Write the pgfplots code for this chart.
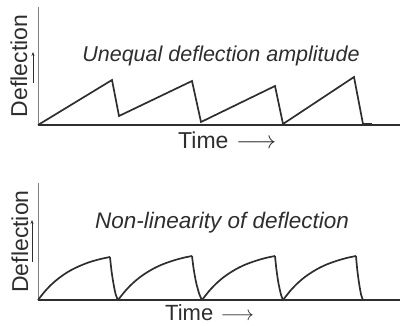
\documentclass[border=0pt]{standalone}
\usepackage{pgfplots}
\pgfplotsset{compat=1.18}
\usetikzlibrary{arrows.meta}
\usepackage{fontspec}
\setmainfont{Liberation Sans}
\definecolor{ink}{HTML}{2E2E2E}
\begin{document}
\begin{tikzpicture}[x=1pt,y=1pt]
\useasboundingbox (0,0) rectangle (400,325);
\pgfplotsset{
  wave/.style={line width=1.7pt, color=ink, mark=none, line join=miter},
  panel/.style={
  scale only axis, width=362pt, xmin=0, xmax=362, ymin=0,
  axis x line=bottom, axis y line=left,
  x axis line style={-, line width=1.2pt, color=ink},
  y axis line style={-, line width=0.7pt, color=gray},
  xtick=\empty, ytick=\empty, clip=false}
}
% ---------- top panel ----------
\begin{axis}[panel, at={(38,200)}, anchor=south west, height=118pt, ymax=118]
\addplot[wave] coordinates {(0,0) (74,45) (81,9) (154,44) (163,3) (237,39) (245,1) (316,48) (325,1)};
\addplot[wave, line width=2.6pt] coordinates {(325,1) (334,1)};
\end{axis}
% ---------- bottom panel ----------
\begin{axis}[panel, at={(38,25)}, anchor=south west, height=117pt, ymax=117]
% cycle 1
\addplot[wave, smooth] coordinates {(0,0) (7.2,9.0) (14.4,16.4) (21.6,22.4) (28.8,27.4) (36,31.4) (43.2,34.7) (50.4,37.5) (57.6,39.7) (64.8,41.5) (72,43)};
\addplot[wave, smooth] coordinates {(72,43) (73.4,30) (75.4,16.8) (77.8,5.2) (80,0)};
% cycle 2
\addplot[wave, smooth] coordinates {(80,0) (87.4,9.2) (94.8,16.8) (102.2,23.0) (109.6,28.0) (117,32.2) (124.4,35.6) (131.8,38.3) (139.2,40.6) (146.6,42.5) (154,44)};
\addplot[wave, smooth] coordinates {(154,44) (155.7,30.8) (158.2,17.2) (161.5,5.3) (164,0)};
% cycle 3
\addplot[wave, smooth] coordinates {(164,0) (171.3,9.2) (178.6,16.8) (185.9,23.0) (193.2,28.0) (200.5,32.2) (207.8,35.6) (215.1,38.3) (222.4,40.6) (229.7,42.5) (237,44)};
\addplot[wave, smooth] coordinates {(237,44) (238.4,30.8) (240.4,17.2) (243,5.3) (245,0)};
% cycle 4
\addplot[wave, smooth] coordinates {(245,0) (252.3,9.2) (259.6,16.8) (266.9,23.0) (274.2,28.0) (281.5,32.2) (288.8,35.6) (296.1,38.3) (303.4,40.6) (310.7,42.5) (318,44)};
\addplot[wave, smooth] coordinates {(318,44) (319.2,30.8) (321,17.2) (323.1,5.3) (325,0)};
\end{axis}
% ---------- labels ----------
\node[rotate=90, anchor=base, font=\fontsize{23}{26}\selectfont, text=ink, inner sep=0pt] at (27,259) {Deflection};
\draw[ink, line width=0.7pt, -{Stealth[length=4pt,width=3pt]}] (33,242) -- (33,273);
\node[font=\fontsize{21.5}{24}\selectfont\itshape, text=ink, inner sep=0pt, anchor=base] at (221,264) {Unequal deflection amplitude};
\node[font=\fontsize{23}{26}\selectfont, text=ink, inner sep=0pt, anchor=base west] at (178,177) {Time\,\,$\longrightarrow$};
\node[rotate=90, anchor=base, font=\fontsize{23}{26}\selectfont, text=ink, inner sep=0pt] at (28,83.5) {Deflection};
\draw[ink, line width=0.7pt, -{Stealth[length=4pt,width=3pt]}] (32,63) -- (32,105);
\node[font=\fontsize{22.5}{25}\selectfont\itshape, text=ink, inner sep=0pt, anchor=base] at (222,97) {Non-linearity of deflection};
\node[font=\fontsize{22}{25}\selectfont, text=ink, inner sep=0pt, anchor=base west] at (165,5) {Time\,\,$\longrightarrow$};
\end{tikzpicture}
\end{document}
